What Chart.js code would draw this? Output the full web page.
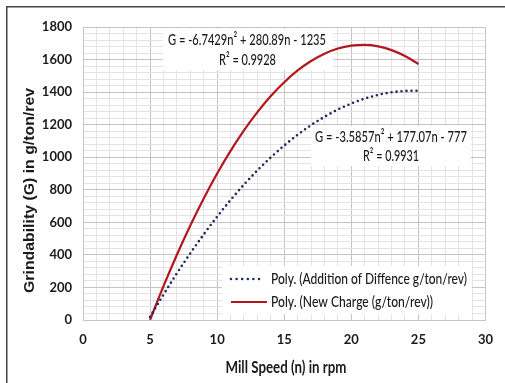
<!DOCTYPE html>
<html><head><meta charset="utf-8">
<script src="https://cdn.jsdelivr.net/npm/chart.js@4.4.0/dist/chart.umd.min.js"></script>
<style>html,body{margin:0;padding:0;background:#fff;overflow:hidden}canvas{display:block}</style>
</head><body><canvas id="c" width="505" height="383"></canvas>
<script>
// ---- data ----
const millSpeed = [5,6,7,8,9,10,11,12,13,14,15,16,17,18,19,20,21,22,23,24,25];
const newCharge = [1,208,401,581,747,900,1039,1165,1277,1376,1461,1533,1591,1636,1668,1686,1690,1681,1658,1622,1573];
const additionDiff = [19,156,287,410,526,635,737,832,919,999,1072,1138,1197,1248,1293,1330,1360,1383,1399,1407,1409];
const xTickLabels = [0,5,10,15,20,25,30];
const yTickLabels = [0,200,400,600,800,1000,1200,1400,1600,1800];
const seriesNames = ['Poly. (Addition of Diffence g/ton/rev)', 'Poly. (New Charge (g/ton/rev))'];
const eqNewCharge = ['G = -6.7429n\u00B2 + 280.89n - 1235', 'R\u00B2 = 0.9928'];
const eqAddition = ['G = -3.5857n\u00B2 + 177.07n - 777', 'R\u00B2 = 0.9931'];
const xTitle = 'Mill Speed (n) in rpm';
const yTitle = 'Grindability (G) in g/ton/rev';

const NAVY = '#1f2d5c', RED = '#b3161b', TXT = '#1a1a1a';
const MAJOR = '#c4c4c4', MINOR = '#e3e3e3';
const FAM = 'Lato, "Open Sans", sans-serif';

function fitText(ctx, text, cx, cy, target, font, rot) {
  ctx.save();
  ctx.font = font;
  const w = ctx.measureText(text).width;
  ctx.translate(cx, cy);
  if (rot) ctx.rotate(rot);
  ctx.scale(target / w, 1);
  ctx.textAlign = 'center';
  ctx.textBaseline = 'middle';
  ctx.fillStyle = TXT;
  ctx.fillText(text, 0, 0);
  ctx.restore();
}
function leftText(ctx, text, x, cy, target, font) {
  ctx.save();
  ctx.font = font;
  const w = ctx.measureText(text).width;
  ctx.translate(x, cy);
  ctx.scale(target / w, 1);
  ctx.textAlign = 'left';
  ctx.textBaseline = 'middle';
  ctx.fillStyle = TXT;
  ctx.fillText(text, 0, 0);
  ctx.restore();
}

const decor = {
  id: 'decor',
  beforeDatasetsDraw(chart) {
    const ctx = chart.ctx;
    ctx.save();
    ctx.fillStyle = '#fff';
    ctx.fillRect(163, 29, 170, 41);
    ctx.fillRect(311, 126, 160, 40);
    ctx.fillRect(222, 266, 250, 48);
    ctx.restore();
  },
  afterDatasetsDraw(chart) {
    const ctx = chart.ctx;
    const f = '500 16px ' + FAM;
    fitText(ctx, eqNewCharge[0], 247, 40, 158, f);
    fitText(ctx, eqNewCharge[1], 247.5, 60, 57, f);
    fitText(ctx, eqAddition[0], 391, 137, 152, f);
    fitText(ctx, eqAddition[1], 391, 156, 56, f);
    // legend
    ctx.save();
    ctx.strokeStyle = NAVY; ctx.lineWidth = 2.6; ctx.lineCap = 'round';
    ctx.setLineDash([0, 5.6]);
    ctx.beginPath(); ctx.moveTo(231, 279); ctx.lineTo(262, 279); ctx.stroke();
    ctx.setLineDash([]); ctx.lineCap = 'butt';
    ctx.strokeStyle = RED; ctx.lineWidth = 2.2;
    ctx.beginPath(); ctx.moveTo(231, 302); ctx.lineTo(267, 302); ctx.stroke();
    ctx.restore();
    leftText(ctx, seriesNames[0], 271, 279, 196, f);
    leftText(ctx, seriesNames[1], 271, 302, 162, f);
  },
  afterDraw(chart) {
    const ctx = chart.ctx;
    fitText(ctx, yTitle, 30, 190.5, 205, 'bold 14px "Liberation Sans", sans-serif', -Math.PI / 2);
    fitText(ctx, xTitle, 286, 368, 121, 'bold 17px ' + FAM);
    ctx.save();
    ctx.strokeStyle = '#444'; ctx.lineWidth = 1.5;
    ctx.beginPath(); ctx.moveTo(6.75, 383); ctx.lineTo(6.75, 6.75); ctx.lineTo(505, 6.75); ctx.stroke();
    ctx.restore();
  }
};

const pts = (ys) => millSpeed.map((x, i) => ({ x, y: ys[i] }));

new Chart(document.getElementById('c'), {
  type: 'scatter',
  data: {
    datasets: [
      { label: seriesNames[0], data: pts(additionDiff), showLine: true, borderColor: NAVY, borderWidth: 2.6,
        borderDash: [0, 5], borderCapStyle: 'round', pointRadius: 0, cubicInterpolationMode: 'monotone' },
      { label: seriesNames[1], data: pts(newCharge), showLine: true, borderColor: RED, borderWidth: 2.2,
        pointRadius: 0, cubicInterpolationMode: 'monotone' }
    ]
  },
  options: {
    responsive: false, animation: false,
    layout: { padding: { top: 27, right: 17, left: 0, bottom: 0 } },
    plugins: { legend: { display: false }, tooltip: { enabled: false } },
    scales: {
      x: {
        type: 'linear', min: 0, max: 30,
        afterFit: (s) => { s.height = 63; },
        ticks: { stepSize: 1, autoSkip: false, maxRotation: 0, padding: 12, color: TXT,
          font: { family: FAM, size: 13, weight: 'bold' },
          callback: (v) => xTickLabels.includes(v) ? String(v) : '' },
        grid: { drawTicks: false, color: (c) => (c.tick && c.tick.value % 5 === 0) ? MAJOR : MINOR },
        border: { color: MAJOR },
        title: { display: false }
      },
      y: {
        type: 'linear', min: 0, max: 1800,
        afterFit: (s) => { s.width = 83; },
        ticks: { stepSize: 40, autoSkip: false, padding: 11, color: TXT,
          font: { family: FAM, size: 13, weight: 'bold' },
          callback: (v) => yTickLabels.includes(v) ? String(v) : '' },
        grid: { drawTicks: false, color: (c) => (c.tick && c.tick.value % 200 === 0) ? MAJOR : MINOR },
        border: { color: MAJOR },
        title: { display: false }
      }
    }
  },
  plugins: [decor]
});
</script>
</body></html>
